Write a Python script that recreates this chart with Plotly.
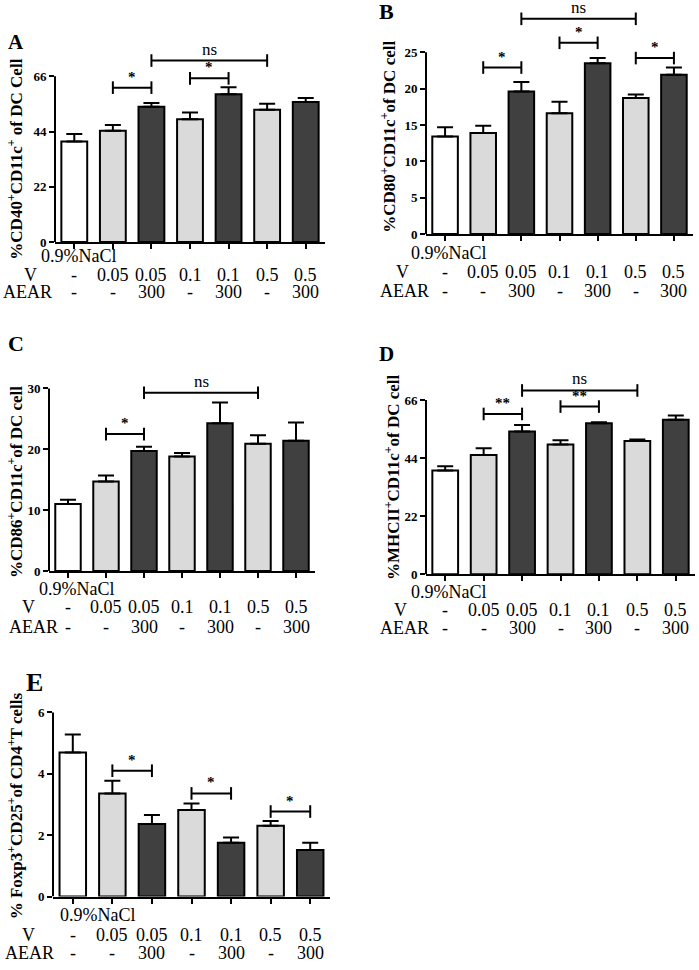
import plotly.graph_objects as go

W, H = 699, 970

# ---------------- data ----------------
groups = ["0.9%NaCl", "V 0.05", "V 0.05 + AEAR 300", "V 0.1", "V 0.1 + AEAR 300", "V 0.5", "V 0.5 + AEAR 300"]
v_labels = ["-", "0.05", "0.05", "0.1", "0.1", "0.5", "0.5"]
aear_labels = ["-", "-", "300", "-", "300", "-", "300"]

A_mean = [40.0, 44.3, 53.9, 48.9, 58.9, 52.7, 55.8]
A_err = [3.0, 2.3, 1.5, 2.7, 2.8, 2.4, 1.6]
B_mean = [13.4, 13.9, 19.6, 16.6, 23.5, 18.7, 21.9]
B_err = [1.3, 1.0, 1.3, 1.6, 0.7, 0.5, 1.0]
C_mean = [11.0, 14.7, 19.7, 18.8, 24.3, 20.9, 21.4]
C_err = [0.7, 1.0, 0.7, 0.6, 3.4, 1.4, 3.0]
D_mean = [39.3, 45.2, 54.1, 49.1, 57.2, 50.5, 58.5]
D_err = [1.6, 2.5, 2.4, 1.6, 0.4, 0.5, 1.6]
E_mean = [4.69, 3.36, 2.36, 2.82, 1.75, 2.31, 1.52]
E_err = [0.59, 0.41, 0.30, 0.21, 0.17, 0.15, 0.23]

A_ticks = [0, 22, 44, 66]
B_ticks = [0, 5, 10, 15, 20, 25]
C_ticks = [0, 10, 20, 30]
D_ticks = [0, 22, 44, 66]
E_ticks = [0, 2, 4, 6]

# significance brackets: (from group, to group, height, label)
A_sig = [(1, 2, 61.5, "*"), (3, 4, 65.2, "*"), (2, 5, 72.3, "ns")]
B_sig = [(1, 2, 22.9, "*"), (3, 4, 26.3, "*"), (5, 6, 24.2, "*"), (2, 5, 29.6, "ns")]
C_sig = [(1, 2, 22.5, "*"), (2, 5, 29.3, "ns")]
D_sig = [(1, 2, 60.7, "**"), (3, 4, 63.5, "**"), (2, 5, 69.6, "ns")]
E_sig = [(1, 2, 4.1, "*"), (3, 4, 3.36, "*"), (5, 6, 2.77, "*")]

A_title = "%CD40<sup>+</sup>CD11c<sup>+</sup> of DC Cell"
B_title = "%CD80<sup>+</sup>CD11c<sup>+</sup>of DC cell"
C_title = "%CD86<sup>+</sup>CD11c<sup>+</sup>of DC cell"
D_title = "%MHCII<sup>+</sup>CD11c<sup>+</sup>of DC cell"
E_title = "% Foxp3<sup>+</sup>CD25<sup>+</sup>of CD4<sup>+</sup>T cells"

# ---------------- style / layout ----------------
WHITE, LIGHT, DARK = "#ffffff", "#dadada", "#404040"
bar_colors = [WHITE, LIGHT, DARK, LIGHT, DARK, LIGHT, DARK]
FONT = "Liberation Serif"

panels = [
    dict(letter="A", mean=A_mean, err=A_err, ticks=A_ticks, sig=A_sig, title=A_title,
         x0=55, x1=325, zero=244, ttop=77, ymax=80,
         lpos=(16, 42), lsize=21, tpos=(15, 161),
         rows=(258, 39, 277, 30, 294, 1)),
    dict(letter="B", mean=B_mean, err=B_err, ticks=B_ticks, sig=B_sig, title=B_title,
         x0=426, x1=693, zero=236, ttop=52.7, ymax=31.5,
         lpos=(386, 12), lsize=22, tpos=(388, 138),
         rows=(255, 409, 274, 402, 293, 378)),
    dict(letter="C", mean=C_mean, err=C_err, ticks=C_ticks, sig=C_sig, title=C_title,
         x0=49, x1=315, zero=575.7, ttop=391.7, ymax=33,
         lpos=(16, 346), lsize=22, tpos=(15, 486),
         rows=(594, 37, 612, 28, 632, 7)),
    dict(letter="D", mean=D_mean, err=D_err, ticks=D_ticks, sig=D_sig, title=D_title,
         x0=426, x1=695, zero=579, ttop=403.3, ymax=78,
         lpos=(386, 357), lsize=21, tpos=(392, 481),
         rows=(597, 409, 615, 400, 633, 378)),
    dict(letter="E", mean=E_mean, err=E_err, ticks=E_ticks, sig=E_sig, title=E_title,
         x0=53, x1=330, zero=904, ttop=718.3, ymax=6.3,
         lpos=(34, 688), lsize=26, tpos=(15, 813),
         rows=(923, 58, 943, 28, 961, 3)),
]


def px(x):
    return x / W


def py(y):
    return 1 - y / H


fig = go.Figure()
annotations = []
shapes = []
layout_axes = {}

for k, p in enumerate(panels, start=1):
    xa = "x" if k == 1 else f"x{k}"
    ya = "y" if k == 1 else f"y{k}"
    xkey = "xaxis" if k == 1 else f"xaxis{k}"
    ykey = "yaxis" if k == 1 else f"yaxis{k}"
    ppu = (p["zero"] - p["ttop"]) / p["ticks"][-1]
    top_px = p["zero"] - p["ymax"] * ppu
    cats = list(range(len(groups)))

    fig.add_trace(go.Bar(
        x=cats, y=p["mean"], xaxis=xa, yaxis=ya, width=0.67,
        marker=dict(color=bar_colors, line=dict(color="black", width=2)),
        error_y=dict(type="data", array=p["err"], arrayminus=[0] * len(cats),
                     symmetric=False, color="black", thickness=2, width=8),
        showlegend=False, hoverinfo="skip",
    ))

    for (i, j, h, lab) in p["sig"]:
        fig.add_trace(go.Scatter(
            x=[i, j], y=[h, h], xaxis=xa, yaxis=ya, mode="lines+markers",
            line=dict(color="black", width=2),
            marker=dict(symbol="line-ns", size=9, color="black",
                        line=dict(color="black", width=2)),
            showlegend=False, hoverinfo="skip", cliponaxis=False,
        ))
        if lab == "ns":
            annotations.append(dict(x=(i + j) / 2, y=h, xref=xa, yref=ya, text="ns",
                                    showarrow=False, yanchor="bottom", yshift=0,
                                    font=dict(family=FONT, size=17, color="black")))
        else:
            annotations.append(dict(x=(i + j) / 2, y=h, xref=xa, yref=ya, text=lab,
                                    showarrow=False, yanchor="bottom", yshift=1,
                                    font=dict(family=FONT, size=15, color="#000000",
                                              weight="bold")))

    layout_axes[xkey] = dict(
        domain=[px(p["x0"]), px(p["x1"])], range=[-0.5, 6.5], anchor=ya,
        showline=True, linecolor="black", linewidth=2, ticks="outside",
        ticklen=5, tickwidth=2, tickcolor="black", tickvals=cats,
        showticklabels=False, showgrid=False, zeroline=False, fixedrange=True,
    )
    layout_axes[ykey] = dict(
        domain=[py(p["zero"]), py(top_px)], range=[0, p["ymax"]], anchor=xa,
        showline=False, ticks="outside", ticklen=5, tickwidth=2,
        tickcolor="black", tickvals=p["ticks"], ticktext=[str(t) for t in p["ticks"]],
        tickfont=dict(family=FONT, size=13, color="black", weight="bold"),
        showgrid=False, zeroline=False, fixedrange=True,
    )
    shapes.append(dict(type="line", xref=f"{xa} domain", yref=ya, x0=0, x1=0,
                       y0=0, y1=p["ticks"][-1], line=dict(color="black", width=2)))

    annotations.append(dict(x=px(p["lpos"][0]), y=py(p["lpos"][1]), xref="paper",
                            yref="paper", text=p["letter"], showarrow=False,
                            xanchor="center", yanchor="middle",
                            font=dict(family=FONT, size=p["lsize"], color="black",
                                      weight="bold")))
    annotations.append(dict(x=px(p["tpos"][0]), y=py(p["tpos"][1]), xref="paper",
                            yref="paper", text=p["title"], textangle=-90,
                            showarrow=False, xanchor="center", yanchor="middle",
                            font=dict(family=FONT, size=17, color="black",
                                      weight="bold")))
    nacl_y, nacl_left, v_y, v_cx, aear_y, aear_left = p["rows"]
    lab_font = dict(family=FONT, size=18, color="black")
    annotations.append(dict(x=px(nacl_left), y=py(nacl_y), xref="paper", yref="paper",
                            text=groups[0], showarrow=False, xanchor="left",
                            yanchor="middle", font=lab_font))
    annotations.append(dict(x=px(v_cx), y=py(v_y), xref="paper", yref="paper",
                            text="V", showarrow=False, xanchor="center",
                            yanchor="middle", font=lab_font))
    annotations.append(dict(x=px(aear_left), y=py(aear_y), xref="paper", yref="paper",
                            text="AEAR", showarrow=False, xanchor="left",
                            yanchor="middle", font=lab_font))
    for c in cats:
        annotations.append(dict(x=c, y=py(v_y), xref=xa, yref="paper",
                                text=v_labels[c], showarrow=False, xanchor="center",
                                yanchor="middle", font=lab_font))
        annotations.append(dict(x=c, y=py(aear_y), xref=xa, yref="paper",
                                text=aear_labels[c], showarrow=False, xanchor="center",
                                yanchor="middle", font=lab_font))

fig.update_layout(
    width=W, height=H, margin=dict(l=0, r=0, t=0, b=0),
    paper_bgcolor="white", plot_bgcolor="white",
    annotations=annotations, shapes=shapes, bargap=0.3,
    font=dict(family=FONT, color="black"),
    **layout_axes,
)

fig.write_html("out.html", config={"displayModeBar": False},
               post_script="document.body.style.margin='0px';document.body.style.padding='0px';")
